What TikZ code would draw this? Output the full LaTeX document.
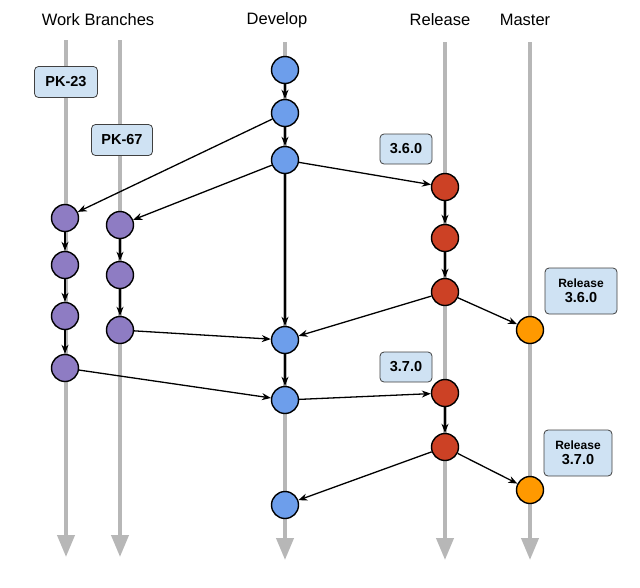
\documentclass[tikz,border=0pt]{standalone}
\usepackage{fontspec}
\setmainfont{Liberation Sans}
\usetikzlibrary{arrows.meta}
\definecolor{devblue}{HTML}{6D9EEB}
\definecolor{wbpurple}{HTML}{8E7CC3}
\definecolor{relred}{HTML}{CC4125}
\definecolor{mstorange}{HTML}{FF9900}
\definecolor{boxblue}{HTML}{CFE2F3}
\definecolor{lanegray}{HTML}{B7B7B7}
\begin{document}
\begin{tikzpicture}[x=1pt,y=-1pt,
  lane/.style={draw=lanegray,line width=4pt,-{Triangle[length=22pt,width=17pt]}},
  commit/.style={circle,draw=black,line width=1.4pt,minimum size=27pt,inner sep=0pt},
  dev/.style={commit,fill=devblue},
  wb/.style={commit,fill=wbpurple},
  rel/.style={commit,fill=relred},
  mst/.style={commit,fill=mstorange},
  tagbox/.style={draw=black!75,line width=0.8pt,fill=boxblue,rounded corners=4pt,font=\bfseries\fontsize{14.5}{15}\selectfont,align=center},
  title/.style={font=\fontsize{16.5}{18}\selectfont},
  conn/.style={draw=black,line width=1.3pt,-{Stealth[length=9pt,width=7pt]}}
]
\useasboundingbox (0,0) rectangle (640,587);
% lanes
\coordinate (l1s) at (66,40); \coordinate (l1e) at (66,557);
\coordinate (l2s) at (120,40); \coordinate (l2e) at (120,557);
\coordinate (l3s) at (285,42); \coordinate (l3e) at (285,560);
\coordinate (l4s) at (445,42); \coordinate (l4e) at (445,560);
\coordinate (l5s) at (530,42); \coordinate (l5e) at (530,560);
\draw[lane] (l1s) -- (l1e);
\draw[lane] (l2s) -- (l2e);
\draw[lane] (l3s) -- (l3e);
\draw[lane] (l4s) -- (l4e);
\draw[lane] (l5s) -- (l5e);
% titles
\node[title] (t1) at (98,20) {Work Branches};
\node[title] (t2) at (277,20) {Develop};
\node[title] (t3) at (440,20) {Release};
\node[title] (t4) at (525,20) {Master};
% tags
\node[tagbox,minimum width=63pt,minimum height=31pt] (pk23) at (66,82) {PK-23};
\node[tagbox,minimum width=61pt,minimum height=31pt] (pk67) at (122,140) {PK-67};
\node[tagbox,minimum width=52pt,minimum height=30pt] (v360) at (406,149) {3.6.0};
\node[tagbox,minimum width=52pt,minimum height=30pt] (v370) at (406,367) {3.7.0};
\node[tagbox,minimum width=72pt,minimum height=46pt,inner sep=2pt] (r360) at (581,291) {{\fontsize{12}{14}\selectfont Release}\\3.6.0};
\node[tagbox,minimum width=68pt,minimum height=46pt,inner sep=2pt] (r370) at (578,453) {{\fontsize{12}{14}\selectfont Release}\\3.7.0};
% commits
\node[dev] (D1) at (285,70) {};
\node[dev] (D2) at (285,113) {};
\node[dev] (D3) at (285,160) {};
\node[dev] (D4) at (285,340) {};
\node[dev] (D5) at (285,400) {};
\node[dev] (D6) at (285,505) {};
\node[wb] (A1) at (65,218) {};
\node[wb] (A2) at (65,265) {};
\node[wb] (A3) at (65,316) {};
\node[wb] (A4) at (65,368) {};
\node[wb] (B1) at (120,225) {};
\node[wb] (B2) at (120,275) {};
\node[wb] (B3) at (120,330) {};
\node[rel] (R1) at (445,187) {};
\node[rel] (R2) at (445,238) {};
\node[rel] (R3) at (445,292) {};
\node[rel] (R4) at (445,393) {};
\node[rel] (R5) at (445,447) {};
\node[mst] (M1) at (530,330) {};
\node[mst] (M2) at (530,490) {};
% connectors
\draw[conn] (D1) -- (D2);
\draw[conn] (D2) -- (D3);
\draw[conn] (D2) -- (A1);
\draw[conn] (D3) -- (B1);
\draw[conn] (D3) -- (R1);
\draw[conn] (D3) -- (D4);
\draw[conn] (A1) -- (A2);
\draw[conn] (A2) -- (A3);
\draw[conn] (A3) -- (A4);
\draw[conn] (B1) -- (B2);
\draw[conn] (B2) -- (B3);
\draw[conn] (B3) -- (D4);
\draw[conn] (R1) -- (R2);
\draw[conn] (R2) -- (R3);
\draw[conn] (R3) -- (D4);
\draw[conn] (R3) -- (M1);
\draw[conn] (D4) -- (D5);
\draw[conn] (A4) -- (D5);
\draw[conn] (D5) -- (R4);
\draw[conn] (R4) -- (R5);
\draw[conn] (R5) -- (D6);
\draw[conn] (R5) -- (M2);
\end{tikzpicture}
\end{document}
